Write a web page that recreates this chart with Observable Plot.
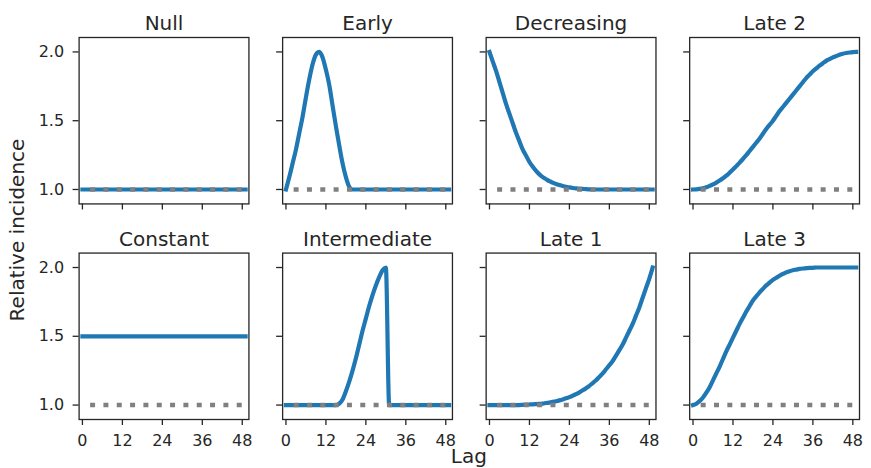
<!DOCTYPE html>
<html>
<head>
<meta charset="utf-8">
<script src="https://cdn.jsdelivr.net/npm/d3@7"></script>
<script src="https://cdn.jsdelivr.net/npm/@observablehq/plot@0.6"></script>
<style>
  html, body { margin: 0; padding: 0; background: #fff; }
  #chart svg { display: block; }
</style>
</head>
<body>
<div id="chart"></div>
<script>
// Lags shared by every risk profile
const lags = [
  0, 1, 2, 3, 4, 5, 6, 7, 8, 9,
  10, 11, 12, 13, 14, 15, 16, 17, 18, 19,
  20, 21, 22, 23, 24, 25, 26, 27, 28, 29,
  30, 31, 32, 33, 34, 35, 36, 37, 38, 39,
  40, 41, 42, 43, 44, 45, 46, 47, 48, 49
];

// Panel layout: names of the top and bottom rows, left to right
const topRowNames = ["Null", "Early", "Decreasing", "Late 2"];
const bottomRowNames = ["Constant", "Intermediate", "Late 1", "Late 3"];

// Relative incidence at each lag, one array per profile
const nullValues = [
  1, 1, 1, 1, 1, 1, 1, 1, 1, 1,
  1, 1, 1, 1, 1, 1, 1, 1, 1, 1,
  1, 1, 1, 1, 1, 1, 1, 1, 1, 1,
  1, 1, 1, 1, 1, 1, 1, 1, 1, 1,
  1, 1, 1, 1, 1, 1, 1, 1, 1, 1
];
const earlyValues = [
  1.00, 1.09, 1.19, 1.29, 1.41, 1.53, 1.67, 1.80, 1.91, 1.98,
  2.00, 1.96, 1.87, 1.76, 1.61, 1.46, 1.32, 1.19, 1.09, 1.02,
  1.00, 1.00, 1.00, 1.00, 1.00, 1.00, 1.00, 1.00, 1.00, 1.00,
  1.00, 1.00, 1.00, 1.00, 1.00, 1.00, 1.00, 1.00, 1.00, 1.00,
  1.00, 1.00, 1.00, 1.00, 1.00, 1.00, 1.00, 1.00, 1.00, 1.00
];
const decreasingValues = [
  2.00, 1.93, 1.86, 1.78, 1.70, 1.62, 1.55, 1.48, 1.41, 1.35,
  1.29, 1.245, 1.20, 1.165, 1.135, 1.11, 1.09, 1.075, 1.06, 1.05,
  1.04, 1.032, 1.025, 1.02, 1.015, 1.011, 1.008, 1.006, 1.004, 1.002,
  1.001, 1.00, 1.00, 1.00, 1.00, 1.00, 1.00, 1.00, 1.00, 1.00,
  1.00, 1.00, 1.00, 1.00, 1.00, 1.00, 1.00, 1.00, 1.00, 1.00
];
const late2Values = [
  1.000, 1.001, 1.004, 1.009, 1.016, 1.026, 1.037, 1.050, 1.065, 1.082,
  1.100, 1.122, 1.145, 1.170, 1.195, 1.222, 1.250, 1.280, 1.310, 1.340,
  1.370, 1.405, 1.440, 1.470, 1.500, 1.535, 1.570, 1.600, 1.630, 1.660,
  1.690, 1.720, 1.750, 1.780, 1.810, 1.835, 1.860, 1.880, 1.900, 1.918,
  1.935, 1.948, 1.960, 1.970, 1.980, 1.987, 1.992, 1.996, 1.999, 2.000
];
const constantValues = [
  1.5, 1.5, 1.5, 1.5, 1.5, 1.5, 1.5, 1.5, 1.5, 1.5,
  1.5, 1.5, 1.5, 1.5, 1.5, 1.5, 1.5, 1.5, 1.5, 1.5,
  1.5, 1.5, 1.5, 1.5, 1.5, 1.5, 1.5, 1.5, 1.5, 1.5,
  1.5, 1.5, 1.5, 1.5, 1.5, 1.5, 1.5, 1.5, 1.5, 1.5,
  1.5, 1.5, 1.5, 1.5, 1.5, 1.5, 1.5, 1.5, 1.5, 1.5
];
const intermediateValues = [
  1.00, 1.00, 1.00, 1.00, 1.00, 1.00, 1.00, 1.00, 1.00, 1.00,
  1.00, 1.00, 1.00, 1.00, 1.00, 1.00, 1.01, 1.04, 1.10, 1.17,
  1.25, 1.34, 1.44, 1.54, 1.63, 1.72, 1.80, 1.87, 1.93, 1.98,
  2.00, 1.00, 1.00, 1.00, 1.00, 1.00, 1.00, 1.00, 1.00, 1.00,
  1.00, 1.00, 1.00, 1.00, 1.00, 1.00, 1.00, 1.00, 1.00, 1.00
];
const late1Values = [
  1.000, 1.000, 1.000, 1.000, 1.000, 1.000, 1.000, 1.000, 1.000, 1.000,
  1.002, 1.003, 1.004, 1.005, 1.007, 1.009, 1.011, 1.015, 1.018, 1.023,
  1.028, 1.034, 1.041, 1.049, 1.058, 1.068, 1.079, 1.092, 1.107, 1.123,
  1.140, 1.160, 1.180, 1.205, 1.230, 1.260, 1.290, 1.320, 1.360, 1.400,
  1.440, 1.490, 1.540, 1.590, 1.650, 1.710, 1.780, 1.850, 1.920, 2.000
];
const late3Values = [
  1.00, 1.01, 1.03, 1.055, 1.09, 1.13, 1.18, 1.23, 1.28, 1.335,
  1.39, 1.44, 1.49, 1.54, 1.59, 1.635, 1.68, 1.72, 1.76, 1.79,
  1.82, 1.845, 1.87, 1.89, 1.91, 1.925, 1.94, 1.953, 1.965, 1.973,
  1.98, 1.985, 1.99, 1.993, 1.995, 1.997, 1.998, 2.00, 2.00, 2.00,
  2.00, 2.00, 2.00, 2.00, 2.00, 2.00, 2.00, 2.00, 2.00, 2.00
];

// Axis ticks and the no-effect reference level
const lagTicks = [0, 12, 24, 36, 48];
const incidenceTicks = [1.0, 1.5, 2.0];
const referenceLevel = 1.0;

const profiles = [
  {name: "Null", values: nullValues},
  {name: "Early", values: earlyValues},
  {name: "Decreasing", values: decreasingValues},
  {name: "Late 2", values: late2Values},
  {name: "Constant", values: constantValues},
  {name: "Intermediate", values: intermediateValues},
  {name: "Late 1", values: late1Values},
  {name: "Late 3", values: late3Values}
];

// Place each profile in its grid cell
const panels = profiles.map(p => {
  const top = topRowNames.indexOf(p.name);
  return {
    ...p,
    col: top >= 0 ? top : bottomRowNames.indexOf(p.name),
    row: top >= 0 ? 0 : 1
  };
});

const points = panels.flatMap(p =>
  lags.map((lag, i) => ({col: p.col, row: p.row, lag, value: p.values[i]}))
);

const ink = "#262626";

const chart = Plot.plot({
  width: 871,
  height: 468,
  marginTop: 37,
  marginBottom: 49,
  marginLeft: 78.6,
  marginRight: 12,
  style: {fontFamily: "'DejaVu Sans', sans-serif", background: "#fff", color: ink},
  fx: {domain: [0, 1, 2, 3], paddingInner: 0.1656, paddingOuter: 0, round: false, axis: null},
  fy: {domain: [0, 1], paddingInner: 0.228, paddingOuter: 0, round: false, axis: null},
  x: {domain: [-1, 50]},
  y: {domain: [0.895, 2.105]},
  marks: [
    // profile curves
    Plot.line(points, {
      x: "lag", y: "value", fx: "col", fy: "row",
      curve: "monotone-x",
      stroke: "#1f77b4", strokeWidth: 4.2,
      strokeLinecap: "square", strokeLinejoin: "round", clip: true
    }),
    // dotted reference at relative incidence 1
    Plot.ruleY([referenceLevel], {
      x1: lags[0], x2: lags[lags.length - 1],
      stroke: "#808080", strokeWidth: 4.5,
      strokeDasharray: "5 8.33", strokeDashoffset: 5.17
    }),
    Plot.frame({stroke: ink, strokeWidth: 1.3}),
    // tick marks on every panel
    Plot.axisX({ticks: lagTicks, tickSize: 6, tickFormat: () => "", facetAnchor: null, label: null, strokeWidth: 1.3}),
    Plot.axisY({ticks: incidenceTicks, tickSize: 6, tickFormat: () => "", facetAnchor: null, label: null, strokeWidth: 1.3}),
    // tick labels on the outer panels
    Plot.axisX({ticks: lagTicks, tickSize: 0, tickPadding: 15, fontSize: 16, label: null}),
    Plot.axisY({ticks: incidenceTicks, tickSize: 0, tickPadding: 15, fontSize: 16, tickFormat: d => d.toFixed(1), label: null}),
    // panel titles
    Plot.text(panels, {
      fx: "col", fy: "row", text: "name",
      frameAnchor: "top", dy: -7.5, lineAnchor: "bottom",
      fontSize: 20, fill: ink
    })
  ]
});

// Shared axis titles
const svg = d3.select(chart);
svg.append("text")
  .attr("transform", "translate(24,230) rotate(-90)")
  .attr("text-anchor", "middle")
  .attr("font-size", 20)
  .attr("fill", ink)
  .text("Relative incidence");
svg.append("text")
  .attr("x", 468.8)
  .attr("y", 463)
  .attr("text-anchor", "middle")
  .attr("font-size", 20)
  .attr("fill", ink)
  .text("Lag");

document.getElementById("chart").appendChild(chart);
</script>
</body>
</html>
